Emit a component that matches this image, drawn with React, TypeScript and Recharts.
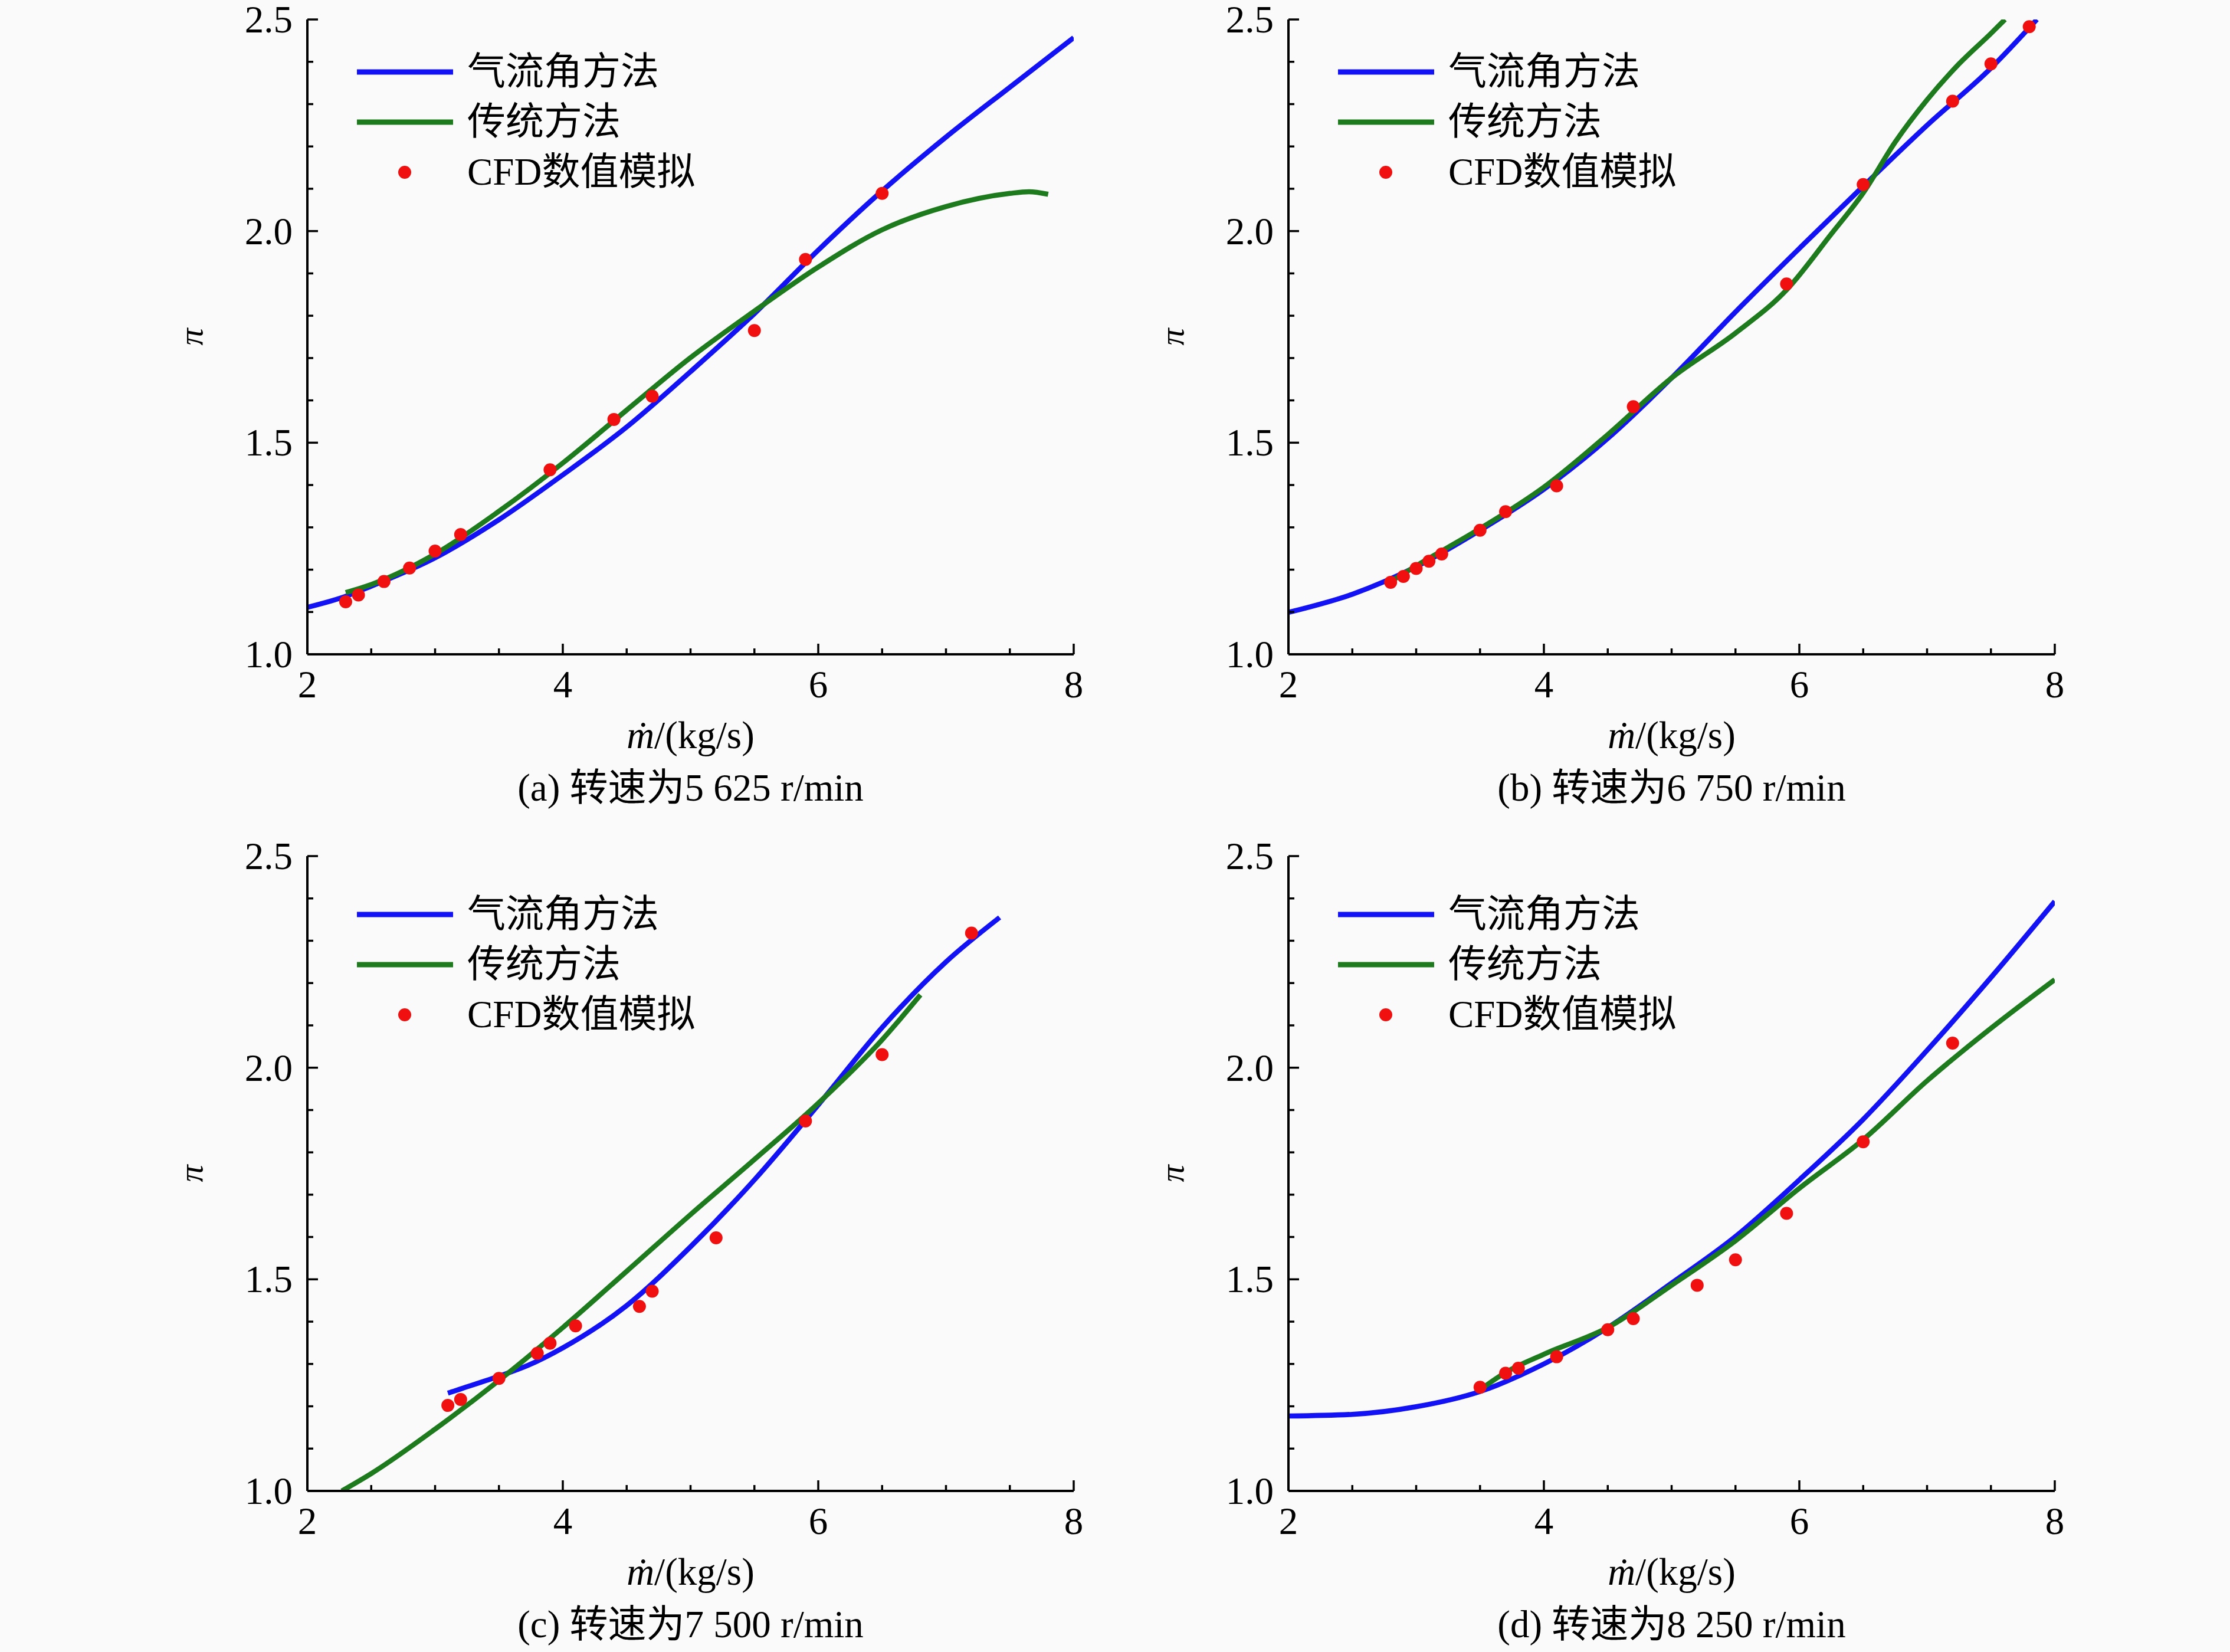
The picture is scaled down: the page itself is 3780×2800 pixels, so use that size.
import React from 'react';
import { ComposedChart, Line, Scatter, XAxis, YAxis, Legend, Label } from 'recharts';

const FONT = "'Liberation Serif', 'Times New Roman', 'Noto Sans CJK SC', serif";

// ticks
const xTicks = [2, 2.5, 3, 3.5, 4, 4.5, 5, 5.5, 6, 6.5, 7, 7.5, 8];
const xMajor = [2, 4, 6, 8];
const yTicks = [1.0, 1.1, 1.2, 1.3, 1.4, 1.5, 1.6, 1.7, 1.8, 1.9, 2.0, 2.1, 2.2, 2.3, 2.4, 2.5];
const yMajor = [1.0, 1.5, 2.0, 2.5];

const seriesNames = ['气流角方法', '传统方法', 'CFD数值模拟'];
const seriesColors = ['#1212f5', '#1d7a1d', '#f01010'];
const captions = [
  '(a) 转速为5 625 r/min',
  '(b) 转速为6 750 r/min',
  '(c) 转速为7 500 r/min',
  '(d) 转速为8 250 r/min',
];

// panel (a)
const aBlueX = [2.0, 2.3, 2.5, 3.0, 3.5, 4.0, 4.5, 5.0, 5.5, 6.0, 6.5, 7.0, 7.5, 8.0];
const aBlueY = [1.111, 1.137, 1.161, 1.228, 1.318, 1.424, 1.537, 1.668, 1.805, 1.955, 2.095, 2.222, 2.340, 2.457];
const aGreenX = [2.3, 2.5, 3.0, 3.5, 4.0, 4.5, 5.0, 5.5, 6.0, 6.5, 7.0, 7.5, 7.65, 7.8];
const aGreenY = [1.146, 1.165, 1.237, 1.338, 1.452, 1.577, 1.701, 1.811, 1.915, 2.003, 2.058, 2.089, 2.093, 2.087];
const aCfdX = [2.3, 2.4, 2.6, 2.8, 3.0, 3.2, 3.9, 4.4, 4.7, 5.5, 5.9, 6.5];
const aCfdY = [1.124, 1.140, 1.172, 1.204, 1.244, 1.283, 1.436, 1.555, 1.610, 1.765, 1.933, 2.089];

// panel (b)
const bBlueX = [2.0, 2.5, 3.0, 3.5, 4.0, 4.5, 5.0, 5.5, 6.0, 6.5, 7.0, 7.5, 7.86];
const bBlueY = [1.099, 1.142, 1.207, 1.293, 1.390, 1.510, 1.653, 1.809, 1.959, 2.106, 2.250, 2.385, 2.5];
const bGreenX = [2.8, 3.0, 3.5, 4.0, 4.5, 5.0, 5.5, 5.9, 6.25, 6.5, 6.75, 7.0, 7.25, 7.5, 7.61];
const bGreenY = [1.172, 1.209, 1.297, 1.395, 1.519, 1.653, 1.759, 1.861, 1.993, 2.090, 2.210, 2.310, 2.395, 2.467, 2.5];
const bCfdX = [2.8, 2.9, 3.0, 3.1, 3.2, 3.5, 3.7, 4.1, 4.7, 5.9, 6.5, 7.2, 7.5, 7.8];
const bCfdY = [1.170, 1.184, 1.203, 1.220, 1.237, 1.293, 1.337, 1.398, 1.585, 1.875, 2.110, 2.307, 2.395, 2.483];

// panel (c)
const cBlueX = [3.1, 3.2, 3.5, 3.73, 4.0, 4.5, 5.0, 5.5, 6.0, 6.5, 7.0, 7.42];
const cBlueY = [1.231, 1.241, 1.271, 1.297, 1.338, 1.438, 1.577, 1.735, 1.912, 2.095, 2.250, 2.355];
const cGreenX = [2.27, 2.5, 3.0, 3.5, 4.0, 4.5, 5.0, 5.5, 6.0, 6.5, 6.8];
const cGreenY = [1.0, 1.041, 1.146, 1.261, 1.386, 1.519, 1.653, 1.783, 1.916, 2.066, 2.172];
const cCfdX = [3.1, 3.2, 3.5, 3.8, 3.9, 4.1, 4.6, 4.7, 5.2, 5.9, 6.5, 7.2];
const cCfdY = [1.202, 1.216, 1.266, 1.325, 1.349, 1.390, 1.436, 1.472, 1.598, 1.874, 2.031, 2.318];

// panel (d)
const dBlueX = [2.0, 2.5, 3.0, 3.5, 4.0, 4.5, 5.0, 5.5, 6.0, 6.5, 7.0, 7.5, 8.0];
const dBlueY = [1.177, 1.181, 1.199, 1.235, 1.300, 1.386, 1.491, 1.601, 1.735, 1.878, 2.041, 2.213, 2.393];
const dGreenX = [3.5, 3.7, 4.0, 4.5, 5.0, 5.5, 6.0, 6.5, 7.0, 7.5, 8.0];
const dGreenY = [1.239, 1.280, 1.323, 1.386, 1.486, 1.591, 1.715, 1.830, 1.969, 2.093, 2.208];
const dCfdX = [3.5, 3.7, 3.8, 4.1, 4.5, 4.7, 5.2, 5.5, 5.9, 6.5, 7.2];
const dCfdY = [1.245, 1.278, 1.290, 1.317, 1.381, 1.407, 1.486, 1.546, 1.656, 1.825, 2.058];

const toPts = (xs: number[], ys: number[]) => xs.map((x, i) => ({ x, y: ys[i] }));

const TOP_PAD = 40;
const panels = [
  { left: 0, top: 0, legendTop: 79, blue: toPts(aBlueX, aBlueY), green: toPts(aGreenX, aGreenY), cfd: toPts(aCfdX, aCfdY), caption: captions[0] },
  { left: 1663, top: 0, legendTop: 79, blue: toPts(bBlueX, bBlueY), green: toPts(bGreenX, bGreenY), cfd: toPts(bCfdX, bCfdY), caption: captions[1] },
  { left: 0, top: 1418, legendTop: 89, blue: toPts(cBlueX, cBlueY), green: toPts(cGreenX, cGreenY), cfd: toPts(cCfdX, cCfdY), caption: captions[2] },
  { left: 1663, top: 1418, legendTop: 89, blue: toPts(dBlueX, dBlueY), green: toPts(dGreenX, dGreenY), cfd: toPts(dCfdX, dCfdY), caption: captions[3] },
];

const isIn = (v: number, list: number[]) => list.some((m) => Math.abs(m - v) < 1e-6);
const MAJOR = 18;
const MINOR = 10;
const TICK_W = 3.5;
const FS = 65;
const LW = 8.5;

const BottomTick = (p: any) => {
  const { x, y, payload } = p;
  const major = isIn(payload.value, xMajor);
  return (
    <g>
      <line x1={x} x2={x} y1={y} y2={y - (major ? MAJOR : MINOR)} stroke="#000" strokeWidth={TICK_W} />
      {major && (
        <text x={x} y={y + 51} textAnchor="middle" dominantBaseline="central" fontSize={FS} fontFamily={FONT} fill="#000">
          {payload.value}
        </text>
      )}
    </g>
  );
};
const TopTick = (p: any) => {
  const { x, y, payload } = p;
  const major = isIn(payload.value, xMajor);
  return <line x1={x} x2={x} y1={y} y2={y + (major ? MAJOR : MINOR)} stroke="#000" strokeWidth={TICK_W} />;
};
const LeftTick = (p: any) => {
  const { x, y, payload } = p;
  const major = isIn(payload.value, yMajor);
  return (
    <g>
      <line x1={x} x2={x + (major ? MAJOR : MINOR)} y1={y} y2={y} stroke="#000" strokeWidth={TICK_W} />
      {major && (
        <text x={x - 25} y={y} textAnchor="end" dominantBaseline="central" fontSize={FS} fontFamily={FONT} fill="#000">
          {Number(payload.value).toFixed(1)}
        </text>
      )}
    </g>
  );
};
const RightTick = (p: any) => {
  const { x, y, payload } = p;
  const major = isIn(payload.value, yMajor);
  return <line x1={x} x2={x - (major ? MAJOR : MINOR)} y1={y} y2={y} stroke="#000" strokeWidth={TICK_W} />;
};

const Dot = (p: any) => <circle cx={p.cx} cy={p.cy} r={11} fill={seriesColors[2]} />;

const renderLegend = (props: any) => {
  const items = [...(props.payload || [])].sort(
    (a: any, b: any) => seriesNames.indexOf(a.value) - seriesNames.indexOf(b.value)
  );
  return (
    <div style={{ fontFamily: FONT, fontSize: 65, color: '#000' }}>
      {items.map((it: any) => (
        <div key={it.value} style={{ display: 'flex', alignItems: 'center', height: 85 }}>
          <svg width={163} height={30} style={{ display: 'block' }}>
            {it.type === 'circle' ? (
              <circle cx={81} cy={15} r={11} fill={it.color} />
            ) : (
              <line x1={0} x2={163} y1={15} y2={15} stroke={it.color} strokeWidth={9} />
            )}
          </svg>
          <span style={{ marginLeft: 24, lineHeight: '85px', whiteSpace: 'nowrap' }}>{it.value}</span>
        </div>
      ))}
    </div>
  );
};

const axisLine = { stroke: '#000', strokeWidth: 4 };

const Panel = ({ cfg }: any) => (
  <div style={{ position: 'absolute', left: cfg.left, top: cfg.top - TOP_PAD, width: 1890, height: 1400 + TOP_PAD }}>
    <ComposedChart width={1890} height={1400 + TOP_PAD} margin={{ top: 33 + TOP_PAD, right: 70, bottom: 0, left: 321 }}>
      <XAxis
        xAxisId="b"
        type="number"
        dataKey="x"
        domain={[2, 8]}
        allowDataOverflow
        ticks={xTicks}
        interval={0}
        tickSize={0}
        tickMargin={0}
        tickLine={false}
        axisLine={axisLine}
        tick={(p: any) => <BottomTick {...p} />}
        height={291}
      >
        <Label
          content={(lp: any) => {
            const vb = lp.viewBox;
            const cx = vb.x + vb.width / 2;
            return (
              <g>
                <text x={cx} y={vb.y + 137} textAnchor="middle" dominantBaseline="central" fontSize={FS} fontFamily={FONT} fill="#000">
                  <tspan fontStyle="italic">ṁ</tspan>/(kg/s)
                </text>
                <text x={cx} y={vb.y + 226} textAnchor="middle" dominantBaseline="central" fontSize={FS} fontFamily={FONT} fill="#000">
                  {cfg.caption}
                </text>
              </g>
            );
          }}
        />
      </XAxis>
      <XAxis
        xAxisId="t"
        orientation="top"
        type="number"
        dataKey="x"
        domain={[2, 8]}
        allowDataOverflow
        ticks={xTicks}
        interval={0}
        tickSize={0}
        tickMargin={0}
        tickLine={false}
        axisLine={axisLine}
        tick={(p: any) => <TopTick {...p} />}
        height={0}
      />
      <YAxis
        yAxisId="l"
        type="number"
        domain={[1, 2.5]}
        allowDataOverflow
        ticks={yTicks}
        interval={0}
        tickSize={0}
        tickMargin={0}
        tickLine={false}
        axisLine={axisLine}
        tick={(p: any) => <LeftTick {...p} />}
        width={200}
      >
        <Label
          content={(lp: any) => {
            const vb = lp.viewBox;
            const px = vb.x + vb.width - 198;
            const py = vb.y + vb.height / 2;
            return (
              <text
                x={px}
                y={py}
                transform={`rotate(-90, ${px}, ${py})`}
                textAnchor="middle"
                dominantBaseline="central"
                fontSize={58}
                fontStyle="italic"
                fontFamily={FONT}
                fill="#000"
              >
                π
              </text>
            );
          }}
        />
      </YAxis>
      <YAxis
        yAxisId="r"
        orientation="right"
        type="number"
        domain={[1, 2.5]}
        allowDataOverflow
        ticks={yTicks}
        interval={0}
        tickSize={0}
        tickMargin={0}
        tickLine={false}
        axisLine={axisLine}
        tick={(p: any) => <RightTick {...p} />}
        width={0}
      />
      <Scatter
        xAxisId="b"
        yAxisId="l"
        name={seriesNames[2]}
        data={cfg.cfd}
        dataKey="y"
        fill={seriesColors[2]}
        legendType="circle"
        shape={(p: any) => <Dot {...p} />}
        isAnimationActive={false}
      />
      <Line
        xAxisId="b"
        yAxisId="l"
        name={seriesNames[0]}
        data={cfg.blue}
        dataKey="y"
        type="monotone"
        stroke={seriesColors[0]}
        strokeWidth={LW}
        dot={false}
        activeDot={false}
        legendType="line"
        isAnimationActive={false}
      />
      <Line
        xAxisId="b"
        yAxisId="l"
        name={seriesNames[1]}
        data={cfg.green}
        dataKey="y"
        type="monotone"
        stroke={seriesColors[1]}
        strokeWidth={LW}
        dot={false}
        activeDot={false}
        legendType="line"
        isAnimationActive={false}
      />
      <Legend
        layout="vertical"
        align="center"
        verticalAlign="middle"
        content={renderLegend}
        wrapperStyle={{ left: 605, top: cfg.legendTop + TOP_PAD, width: 900, height: 260 }}
      />
    </ComposedChart>
  </div>
);

export default function App() {
  return (
    <div style={{ position: 'absolute', left: 0, top: 0, width: 3780, height: 2800, background: '#fafafa', overflow: 'hidden' }}>
      {panels.map((cfg, i) => (
        <Panel key={i} cfg={cfg} />
      ))}
    </div>
  );
}
